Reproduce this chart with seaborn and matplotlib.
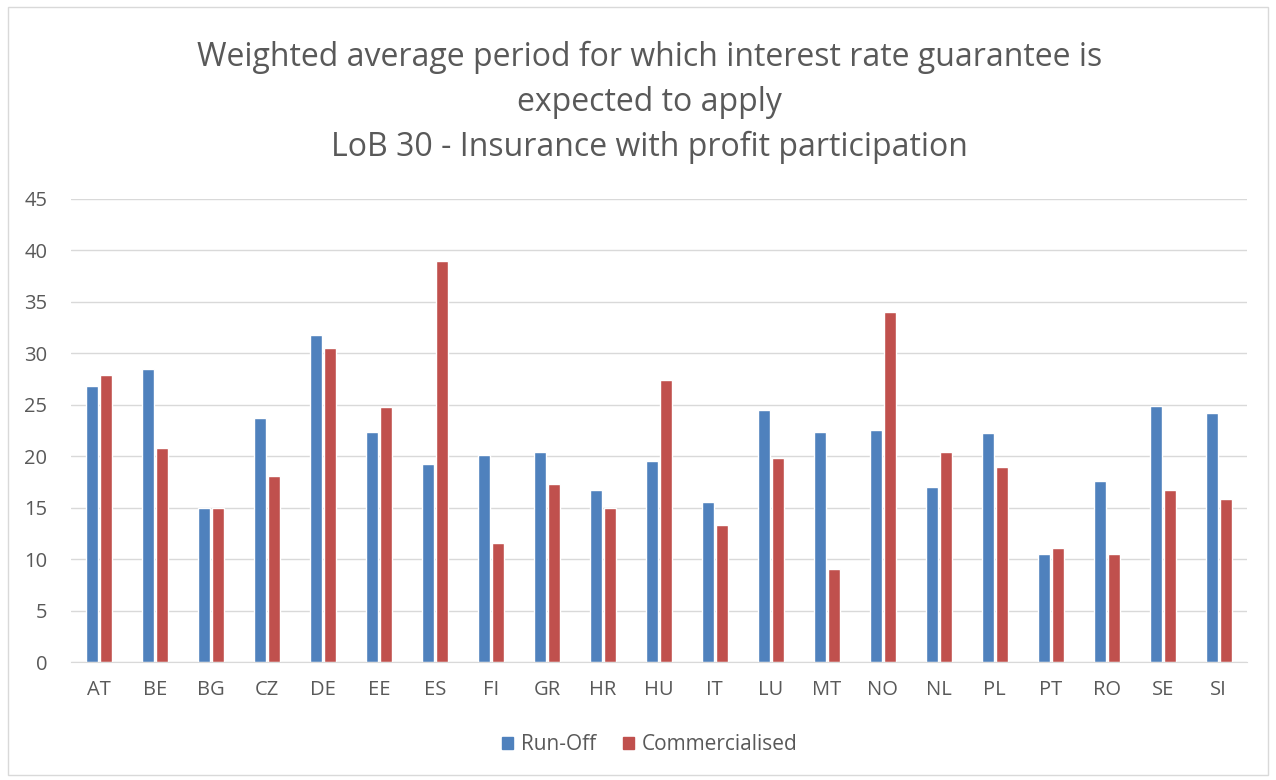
import matplotlib
matplotlib.use('Agg')
import matplotlib.pyplot as plt
import seaborn as sns
import pandas as pd
from matplotlib.patches import Rectangle

# Data
countries = ['AT', 'BE', 'BG', 'CZ', 'DE', 'EE', 'ES', 'FI', 'GR', 'HR', 'HU',
             'IT', 'LU', 'MT', 'NO', 'NL', 'PL', 'PT', 'RO', 'SE', 'SI']
run_off = [26.8, 28.5, 15.0, 23.7, 31.8, 22.4, 19.3, 20.1, 20.4, 16.7, 19.5,
           15.6, 24.5, 22.4, 22.6, 17.0, 22.3, 10.5, 17.6, 24.9, 24.2]
commercialised = [27.9, 20.8, 15.0, 18.1, 30.5, 24.8, 39.0, 11.6, 17.3, 15.0, 27.4,
                  13.3, 19.8, 9.1, 34.0, 20.4, 19.0, 11.1, 10.5, 16.7, 15.9]
series = ['Run-Off', 'Commercialised']
colors = ['#4F81BD', '#C0504D']
y_ticks = list(range(0, 50, 5))

df = pd.DataFrame({'country': countries, series[0]: run_off, series[1]: commercialised})
df = df.melt(id_vars='country', var_name='series', value_name='value')

sns.set_style('white')
plt.rcParams['font.family'] = ['Open Sans', 'DejaVu Sans']
text_color = '#595959'

fig = plt.figure(figsize=(12.76, 7.8), dpi=100)
ax = fig.add_axes([0.0556, 0.151, 0.9214, 0.594])

sns.barplot(data=df, x='country', y='value', hue='series', order=countries,
            hue_order=series, palette=colors, width=0.5, gap=0.15,
            saturation=1, ax=ax, legend=False)

ax.set_ylim(0, 45)
ax.set_xlim(-0.5, len(countries) - 0.5)
ax.set_yticks(y_ticks)
ax.yaxis.grid(True, color='#D9D9D9', linewidth=1)
ax.set_axisbelow(True)
for side in ['top', 'right', 'left']:
    ax.spines[side].set_visible(False)
ax.spines['bottom'].set_color('#D9D9D9')
ax.tick_params(axis='both', length=0, labelsize=14.5, colors=text_color)
ax.tick_params(axis='x', pad=13)
ax.tick_params(axis='y', pad=17)
ax.set_xlabel('')
ax.set_ylabel('')

title_lines = ['Weighted average period for which interest rate guarantee is',
               'expected to apply',
               'LoB 30 - Insurance with profit participation']
for line, y in zip(title_lines, [0.927, 0.869, 0.811]):
    fig.text(0.509, y, line, ha='center', va='center', fontsize=23, color=text_color)

handles = [Rectangle((0, 0), 1, 1, color=c) for c in colors]
fig.legend(handles, series, loc='center', bbox_to_anchor=(0.509, 0.045), ncol=2,
           frameon=False, fontsize=15, handlelength=0.55, handleheight=0.55,
           handletextpad=0.35, columnspacing=1.3, labelcolor=text_color)

fig.patches.append(Rectangle((0.006, 0.006), 0.988, 0.985, transform=fig.transFigure,
                             fill=False, edgecolor='#D9D9D9', linewidth=1))

fig.savefig('out.png', dpi=100)
